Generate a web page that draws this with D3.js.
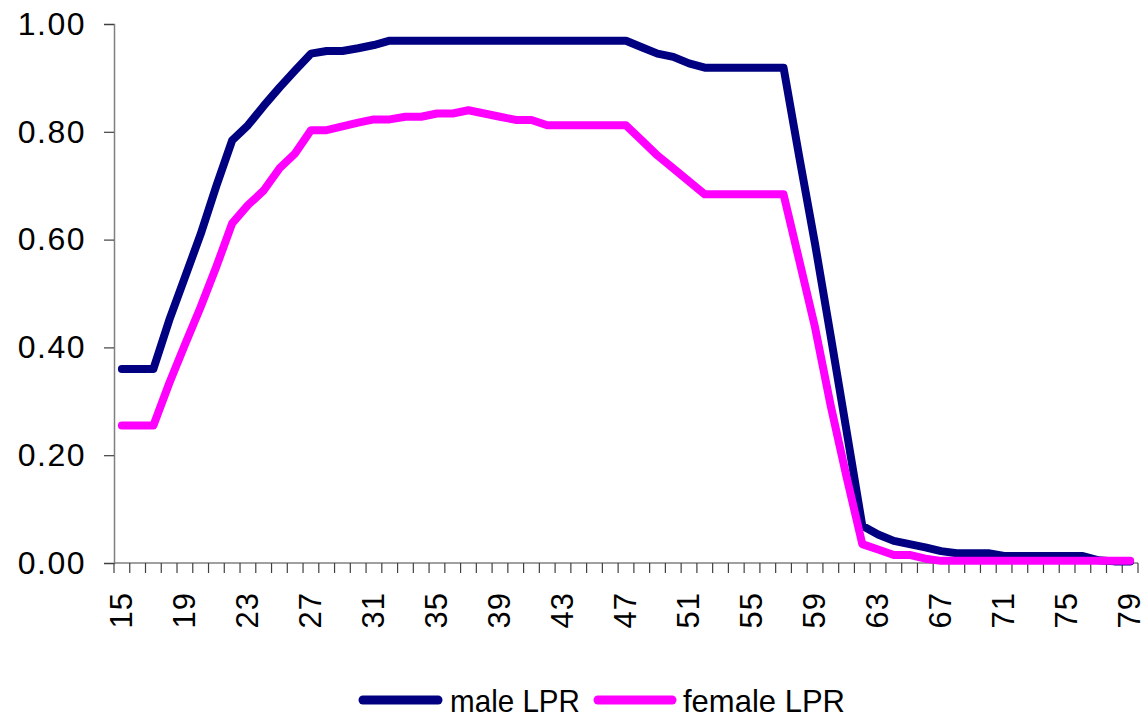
<!DOCTYPE html>
<html>
<head>
<meta charset="utf-8">
<script src="https://cdn.jsdelivr.net/npm/d3@7"></script>
<style>
  html, body { margin: 0; padding: 0; background: #fff; }
  svg { display: block; }
  text { font-family: "Liberation Sans", Arial, sans-serif; fill: #000; }
</style>
</head>
<body>
<svg id="chart" width="1146" height="720"></svg>
<script>
// ---- Data ----
const ages = [15,16,17,18,19,20,21,22,23,24,25,26,27,28,29,30,31,32,33,34,35,36,37,38,39,40,
  41,42,43,44,45,46,47,48,49,50,51,52,53,54,55,56,57,58,59,60,61,62,63,64,65,66,67,68,69,70,
  71,72,73,74,75,76,77,78,79];

const maleLPR = [0.36,0.36,0.36,0.45,0.53,0.61,0.70,0.784,0.812,0.848,0.882,0.914,0.945,0.950,0.950,0.955,0.961,0.969,
  0.969,0.969,0.969,0.969,0.969,0.969,0.969,0.969,0.969,0.969,0.969,0.969,0.969,0.969,0.969,
  0.957,0.945,0.939,0.927,0.919,0.919,0.919,0.919,0.919,0.919,
  0.753,0.592,0.42,0.245,0.069,0.053,0.041,0.035,0.029,0.022,0.018,0.018,0.018,0.013,0.013,0.013,0.013,0.013,0.013,0.005,0.003,0.003];

const femaleLPR = [0.255,0.255,0.255,0.333,0.405,0.475,0.55,0.630,0.664,0.691,0.732,0.760,0.803,0.803,0.810,0.817,0.823,0.823,
  0.828,0.828,0.834,0.834,0.840,0.834,0.828,0.822,0.822,0.812,0.812,0.812,0.812,0.812,0.812,
  0.784,0.756,0.732,0.708,0.684,0.684,0.684,0.684,0.684,0.684,
  0.561,0.437,0.291,0.160,0.035,0.025,0.015,0.015,0.008,0.004,0.004,0.004,0.004,0.004,0.004,0.004,0.004,0.004,0.004,0.004,0.004,0.004];

const xTickLabels = ["15","19","23","27","31","35","39","43","47","51","55","59","63","67","71","75","79"];
const yTickValues = [0, 0.2, 0.4, 0.6, 0.8, 1.0];

const seriesNames = ["male LPR", "female LPR"];
const seriesColors = ["#000080", "#FF00FF"];

// ---- Layout ----
const svg = d3.select("#chart");
const pLeft = 114, pRight = 1138, pTop = 24, pBottom = 563;

const x = d3.scaleBand().domain(ages).range([pLeft, pRight]).paddingInner(0).paddingOuter(0);
const y = d3.scaleLinear().domain([0, 1]).range([pBottom, pTop]);

// Y axis
const yAxis = d3.axisLeft(y).tickValues(yTickValues).tickFormat(d3.format(".2f")).tickSize(10).tickPadding(18);
const gy = svg.append("g").attr("transform", `translate(${pLeft},0)`).call(yAxis);
gy.select(".domain").attr("stroke", "#808080").attr("stroke-width", 1.5);
gy.selectAll(".tick line").attr("stroke", "#404040").attr("stroke-width", 1.2);
gy.selectAll(".tick text").attr("font-size", 32).attr("font-family", "Liberation Sans, Arial, sans-serif")
  .attr("letter-spacing", 1.5).attr("fill", "#000");

// X axis: ticks at category boundaries
const gx = svg.append("g").attr("transform", `translate(0,${pBottom})`);
gx.append("line").attr("x1", pLeft).attr("x2", pRight).attr("y1", 0).attr("y2", 0)
  .attr("stroke", "#808080").attr("stroke-width", 1.5);
const boundaries = ages.map(a => x(a)).concat([x(ages[ages.length - 1]) + x.bandwidth()]);
gx.selectAll("line.tk").data(boundaries).enter().append("line").attr("class", "tk")
  .attr("x1", d => d).attr("x2", d => d).attr("y1", 0).attr("y2", 10)
  .attr("stroke", "#404040").attr("stroke-width", 1.2);
gx.selectAll("text.lbl").data(xTickLabels).enter().append("text").attr("class", "lbl")
  .attr("transform", d => `translate(${x(+d) + x.bandwidth() / 2 + 10},29) rotate(-90)`)
  .attr("text-anchor", "end")
  .attr("font-size", 31)
  .attr("letter-spacing", 1)
  .text(d => d);

// Lines
const line = d3.line()
  .x((d, i) => x(ages[i]) + x.bandwidth() / 2)
  .y(d => y(d));

[maleLPR, femaleLPR].forEach((vals, k) => {
  svg.append("path").datum(vals)
    .attr("d", line)
    .attr("fill", "none")
    .attr("stroke", seriesColors[k])
    .attr("stroke-width", 8)
    .attr("stroke-linejoin", "round")
    .attr("stroke-linecap", "round");
});

// Legend
const legendItems = [
  { name: seriesNames[0], color: seriesColors[0], x1: 363, x2: 438, tx: 450, w: 130 },
  { name: seriesNames[1], color: seriesColors[1], x1: 598, x2: 672, tx: 683, w: 162 }
];
const lg = svg.append("g");
legendItems.forEach(it => {
  lg.append("line").attr("x1", it.x1).attr("x2", it.x2).attr("y1", 700).attr("y2", 700)
    .attr("stroke", it.color).attr("stroke-width", 9).attr("stroke-linecap", "round");
  lg.append("text").attr("x", it.tx).attr("y", 712).attr("font-size", 32)
    .attr("textLength", it.w).attr("lengthAdjust", "spacingAndGlyphs").text(it.name);
});
</script>
</body>
</html>
